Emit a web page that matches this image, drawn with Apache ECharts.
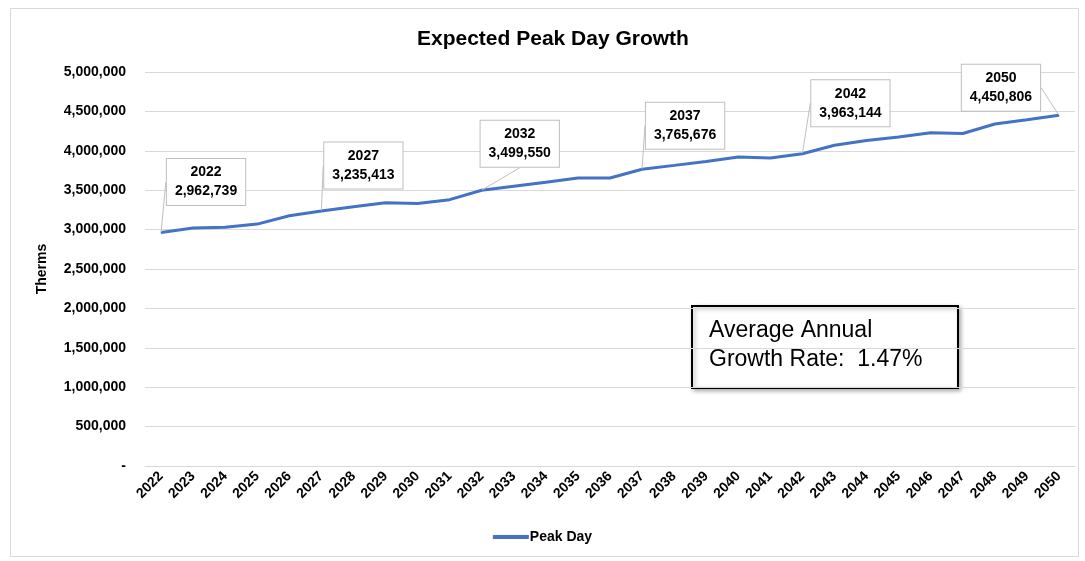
<!DOCTYPE html>
<html>
<head>
<meta charset="utf-8">
<title>Expected Peak Day Growth</title>
<script src="https://cdn.jsdelivr.net/npm/echarts@6/dist/echarts.min.js"></script>
<style>
  html, body { margin: 0; padding: 0; background: #fff; }
  #chart { width: 1085px; height: 561px; }
</style>
</head>
<body>
<div id="chart"></div>
<script>
// data
var years = ['2022', '2023', '2024', '2025', '2026', '2027', '2028', '2029', '2030', '2031',
  '2032', '2033', '2034', '2035', '2036', '2037', '2038', '2039', '2040', '2041',
  '2042', '2043', '2044', '2045', '2046', '2047', '2048', '2049', '2050'];
var peakDay = [2962739, 3020000, 3030000, 3070000, 3175000, 3235413, 3290000, 3340000, 3330000, 3380000,
  3499550, 3550000, 3600000, 3655000, 3655000, 3765676, 3815000, 3865000, 3920000, 3910000,
  3963144, 4070000, 4130000, 4175000, 4230000, 4220000, 4340000, 4395000, 4450806];
var calloutYears = ['2022', '2027', '2032', '2037', '2042', '2050'];
var yTicks = [0, 500000, 1000000, 1500000, 2000000, 2500000, 3000000, 3500000, 4000000, 4500000, 5000000];

// where each callout box sits relative to its point
var calloutShift = {
  '2022': [45, -27],
  '2027': [42, -22],
  '2032': [38, -23],
  '2037': [43, -20],
  '2042': [48, -27],
  '2050': [-58, -4]
};

var font = '"Liberation Sans", Arial, sans-serif';

function fmt(v) {
  return v.toLocaleString('en-US');
}

var seriesData = peakDay.map(function (v, i) {
  if (calloutYears.indexOf(years[i]) >= 0) {
    return { value: v, label: { show: true }, labelLine: { show: true } };
  }
  return v;
});

var chart = echarts.init(document.getElementById('chart'));
var option = {
  backgroundColor: '#fff',
  animation: false,
  title: {
    text: 'Expected Peak Day Growth',
    left: 412,
    top: 24,
    textStyle: { fontFamily: font, fontSize: 21, fontWeight: 'bold', color: '#000' }
  },
  legend: {
    bottom: 12,
    left: 'center',
    data: [{ name: 'Peak Day', icon: 'rect' }],
    itemWidth: 36,
    itemHeight: 4,
    itemGap: 4,
    textStyle: { fontFamily: font, fontSize: 14, fontWeight: 'bold', color: '#000', padding: [0, 0, 0, -4] }
  },
  grid: { left: 145, right: 10, top: 72, bottom: 95 },
  xAxis: {
    type: 'category',
    data: years,
    boundaryGap: true,
    axisLine: { lineStyle: { color: '#d9d9d9' } },
    axisTick: { show: false },
    axisLabel: {
      rotate: 45,
      interval: 0,
      margin: 8,
      fontFamily: font,
      fontSize: 14,
      fontWeight: 'bold',
      color: '#000'
    }
  },
  yAxis: {
    type: 'value',
    min: yTicks[0],
    max: yTicks[yTicks.length - 1],
    interval: yTicks[1] - yTicks[0],
    name: 'Therms',
    nameLocation: 'middle',
    nameGap: 96,
    nameTextStyle: { fontFamily: font, fontSize: 14, fontWeight: 'bold', color: '#000' },
    axisLine: { show: false },
    axisTick: { show: false },
    splitLine: { lineStyle: { color: '#d9d9d9', width: 1 } },
    axisLabel: {
      margin: 19,
      fontFamily: font,
      fontSize: 14,
      fontWeight: 'bold',
      color: '#000',
      formatter: function (v) { return v === 0 ? '-' : fmt(v); }
    }
  },
  series: [{
    name: 'Peak Day',
    type: 'line',
    data: seriesData,
    symbol: 'circle',
    symbolSize: 1,
    showSymbol: true,
    lineStyle: { color: '#4472C4', width: 3 },
    itemStyle: { color: '#4472C4' },
    label: {
      show: false,
      position: 'top',
      distance: 0,
      formatter: function (p) { return p.name + '\n' + fmt(p.value); },
      fontFamily: font,
      fontSize: 14,
      fontWeight: 'bold',
      color: '#000',
      lineHeight: 19,
      align: 'center',
      backgroundColor: '#fff',
      borderColor: '#bfbfbf',
      borderWidth: 1,
      padding: [4, 8]
    },
    labelLine: { show: true, lineStyle: { color: '#bfbfbf', width: 1 } },
    labelLayout: function (p) {
      var s = calloutShift[years[p.dataIndex]];
      return s ? { dx: s[0], dy: s[1] } : {};
    }
  }],
  graphic: [
    {
      type: 'rect',
      left: 8, top: 6,
      shape: { width: 1068, height: 548 },
      style: { fill: 'none', stroke: '#d9d9d9', lineWidth: 1 },
      silent: true
    },
    {
      type: 'group',
      left: 691, top: 305,
      children: [
        {
          type: 'rect',
          shape: { width: 266, height: 82 },
          style: { fill: '#fff', stroke: '#000', lineWidth: 2, shadowBlur: 4, shadowOffsetX: 2, shadowOffsetY: 2, shadowColor: 'rgba(0,0,0,0.3)' }
        },
        {
          type: 'text',
          left: 17, top: 10,
          style: {
            text: 'Average Annual\nGrowth Rate:  1.47%',
            font: '23px ' + font,
            fill: '#000',
            lineHeight: 29
          }
        }
      ]
    }
  ]
};
chart.setOption(option);
</script>
</body>
</html>
